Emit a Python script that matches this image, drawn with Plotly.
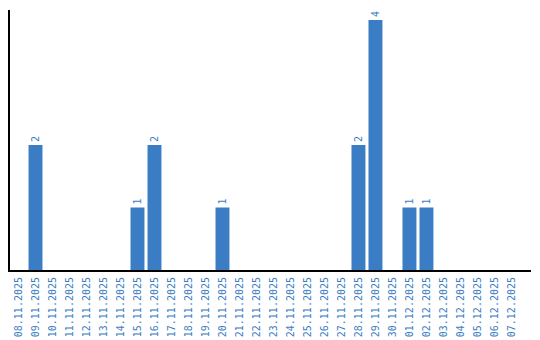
import plotly.graph_objects as go

dates = ["08.11.2025", "09.11.2025", "10.11.2025", "11.11.2025", "12.11.2025",
         "13.11.2025", "14.11.2025", "15.11.2025", "16.11.2025", "17.11.2025",
         "18.11.2025", "19.11.2025", "20.11.2025", "21.11.2025", "22.11.2025",
         "23.11.2025", "24.11.2025", "25.11.2025", "26.11.2025", "27.11.2025",
         "28.11.2025", "29.11.2025", "30.11.2025", "01.12.2025", "02.12.2025",
         "03.12.2025", "04.12.2025", "05.12.2025", "06.12.2025", "07.12.2025"]
counts = [0, 2, 0, 0, 0, 0, 0, 1, 2, 0,
          0, 0, 1, 0, 0, 0, 0, 0, 0, 0,
          2, 4, 0, 1, 1, 0, 0, 0, 0, 0]

blue = "#3b7dc4"
labels = [str(v) if v > 0 else "" for v in counts]

fig = go.Figure(go.Bar(
    x=dates, y=counts, marker_color=blue, marker_line_width=0,
    text=labels, textposition="outside", textangle=-90,
    textfont=dict(family="DejaVu Sans Mono", size=10, color=blue),
    cliponaxis=False,
))
fig.update_layout(
    width=540, height=340,
    margin=dict(l=10, r=9, t=10, b=70, autoexpand=False),
    plot_bgcolor="white", paper_bgcolor="white",
    bargap=0.18, showlegend=False,
)
fig.update_xaxes(
    type="category", range=[-0.5, 30.15], tickangle=-90, automargin=False,
    tickfont=dict(family="DejaVu Sans Mono", size=10, color=blue),
    showline=True, linecolor="black", linewidth=2, showgrid=False,
    ticks="outside", ticklen=1, tickcolor="rgba(0,0,0,0)",
)
fig.update_yaxes(
    range=[0, 4.16], showline=True, linecolor="black", linewidth=2,
    showgrid=False, showticklabels=False, ticks="", zeroline=False,
    automargin=False,
)
fig.write_html("out.html")
